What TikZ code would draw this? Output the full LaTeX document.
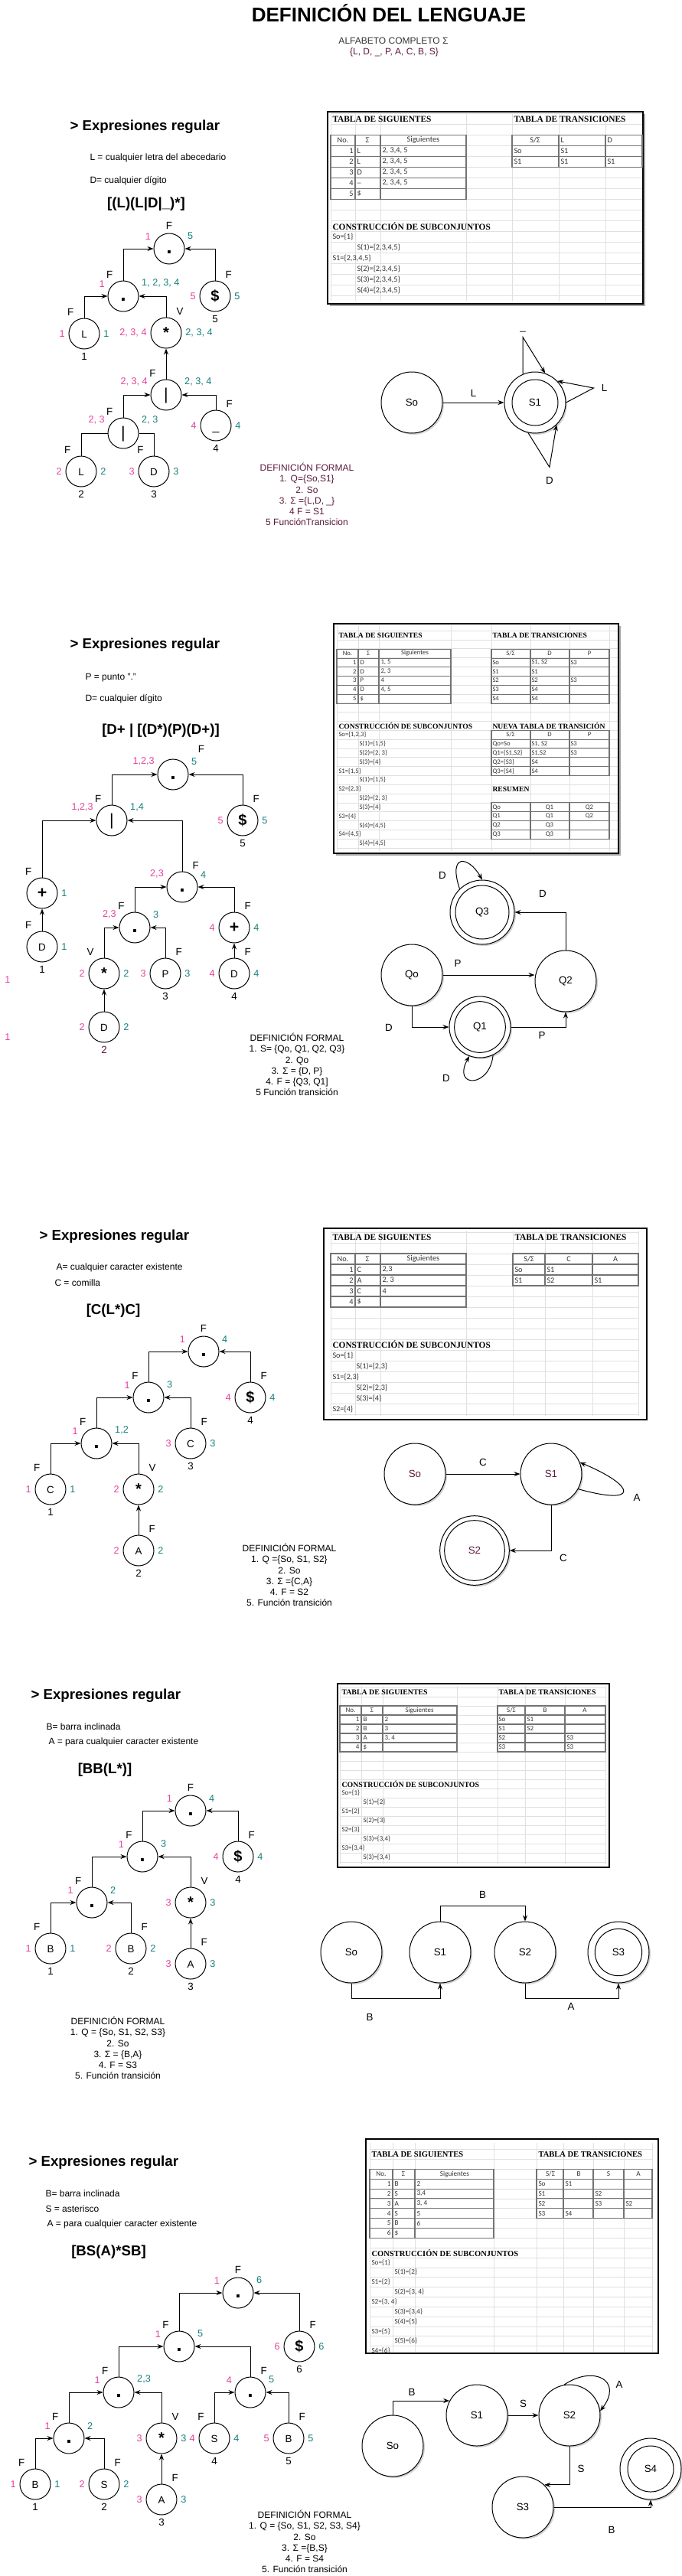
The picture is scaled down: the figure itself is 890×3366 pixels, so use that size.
\documentclass[tikz,border=0pt]{standalone}
\usepackage{fontspec}
\setmainfont{Liberation Sans}
\newfontfamily\tabfont{Carlito}
\newfontfamily\slabfont{Liberation Serif}
\usetikzlibrary{arrows.meta}
\usetikzlibrary{shadows}
\usepackage{xcolor}
\definecolor{rosa}{HTML}{E8409C}
\definecolor{verde}{HTML}{15807C}
\definecolor{vino}{HTML}{5C1B3E}
\tikzset{
nodo/.style={circle, draw, minimum size=30pt, inner sep=0pt, text height=7.5pt, text depth=0pt, font=\fontsize{10}{10}\selectfont},
oper/.style={nodo, text height=11pt, text depth=2pt, font=\fontsize{15}{15}\selectfont\bfseries},
punto/.style={oper, font=\fontsize{20}{20}\selectfont\bfseries},
barra/.style={oper, font=\fontsize{16}{16}\selectfont},
num/.style={font=\fontsize{9.5}{10}\selectfont},
etq/.style={font=\fontsize{10}{10}\selectfont},
ri/.style={label={[num, text=rosa]160:#1}},
vd/.style={label={[num, text=verde]20:#1}},
rc/.style={label={[num, text=rosa]180:#1}},
vc/.style={label={[num, text=verde]0:#1}},
fa/.style={label={[etq]90:#1}},
fi/.style={label={[etq]115:#1}},
fd/.style={label={[etq]65:#1}},
ix/.style={label={[etq]270:#1}},
flecha/.style={-{Stealth[length=6pt, width=4.5pt]}},
estado/.style={circle, draw, fill=white, minimum size=60pt, inner sep=0pt, font=\fontsize{10}{10}\selectfont, drop shadow={shadow xshift=1.5pt, shadow yshift=-1.5pt, fill=black!35}},
txt/.style={font=\fontsize{9}{10.6}\selectfont, inner sep=0pt},
tit/.style={font=\fontsize{14}{14}\selectfont\bfseries, inner sep=0pt},
defi/.style={txt, align=center},
rej/.style={draw=black!12, line width=0.5pt},
bor/.style={draw=black!55, line width=0.8pt},
caja/.style={draw, line width=1.2pt, fill=white},
sombra/.style={fill=black!35},
tc/.style={font=\tabfont\fontsize{#1}{#1}\selectfont, inner sep=0pt, text=black!80},
th/.style={font=\slabfont\bfseries\fontsize{#1}{#1}\selectfont, inner sep=0pt},
}
\begin{document}
\begin{tikzpicture}[x=0.75pt, y=-0.75pt, line width=0.75pt]
\fill[white] (0,0) rectangle (890,3366);
\useasboundingbox (0,0) rectangle (890,3366);
\node[font=\fontsize{19.5}{20}\selectfont\bfseries] (titulo) at (508,17) {DEFINICIÓN DEL LENGUAJE};
\node[txt, text=black!80] (alfa) at (514,53) {ALFABETO COMPLETO Σ};
\node[txt, text=vino] (alfb) at (515,68) {\{L, D, \_, P, A, C, B, S\}};

\node[tit, anchor=west] (er1) at (91,166) {> Expresiones regular};
\node[txt, anchor=west] (dl1) at (117,206) {L = cualquier letra del abecedario};
\node[txt, anchor=west] (dd1) at (117,236) {D= cualquier dígito};
\node[tit] (ex1) at (191,267) {[(L)(L|D|\_)*]};
\node[punto, ri=1, vd=5, fa=F] (r1) at (221,325) {.};
\node[punto, ri=1, vd={1, 2, 3, 4}, fi=F] (p1) at (161,387) {.};
\node[oper, rc=5, vc=5, fd=F, ix=5] (f1) at (281,387) {\$};
\node[nodo, rc=1, vc=1, fi=F, ix=1] (l1) at (110,436) {L};
\node[oper, rc={2, 3, 4}, vc={2, 3, 4}, fd=V] (k1) at (217,435) {*};
\node[barra, ri={2, 3, 4}, vd={2, 3, 4}, fi=F] (o1) at (217,516) {|};
\node[oper, rc=4, vc=4, fd=F, ix=4, font=\fontsize{12}{12}\selectfont] (u1) at (282,556) {\_};
\node[barra, ri={2, 3}, vd={2, 3}, fi=F] (o2) at (161,566) {|};
\node[nodo, rc=2, vc=2, fi=F, ix=2] (l2) at (106,616) {L};
\node[nodo, rc=3, vc=3, fi=F, ix=3] (d1) at (201,616) {D};
\draw[flecha] (p1.north) |- (r1.west);
\draw[flecha] (f1.north) |- (r1.east);
\draw[flecha] (l1.north) |- (p1.west);
\draw[flecha] (k1.north) |- (p1.east);
\draw[flecha] (o1.north) -- (k1.south);
\draw[flecha] (u1.north) |- (o1.east);
\draw[flecha] (o2.north) |- (o1.west);
\draw (l2.north) |- (o2.west);
\draw (d1.north) |- (o2.east);

\fill[sombra] (431,149) rectangle (843,400);
\draw[caja] (428,146) rectangle (840,397);
\foreach \k in {0,...,17} \draw[rej] (432,{148.3+14*\k}) -- (839,{148.3+14*\k});
\foreach \x in {432,464,497,609,669,730,791} \draw[rej] (\x,148) -- (\x,393);
\draw[bor] (432,176.3) rectangle (609,260.3);
\foreach \k in {1,...,5} \draw[bor] (432,{176.3+14*\k}) -- (609,{176.3+14*\k});
\draw[bor] (464,176.3) -- (464,260.3) (497,176.3) -- (497,260.3);
\draw[bor] (669,176.3) rectangle (839,218.3) (669,190.3) -- (839,190.3) (669,204.3) -- (839,204.3) (730,176.3) -- (730,218.3) (791,176.3) -- (791,218.3);
\node[th=8.5, anchor=west] (h1a) at (434,155.3) {TABLA DE SIGUIENTES};
\node[th=8.5, anchor=west] (h1b) at (671,155.3) {TABLA DE TRANSICIONES};
\node[tc=7.7] (h1c) at (448,183.3) {No.};
\node[tc=7.7] (h1d) at (480,183.3) {Σ};
\node[tc=7.7] (h1e) at (553,183.3) {Siguientes};
\node[tc=7.7] (h1f) at (699,183.3) {S/Σ};
\node[tc=7.7, anchor=west] (h1g) at (732,183.3) {L};
\node[tc=7.7, anchor=west] (h1h) at (793,183.3) {D};
\foreach \nr/\xs/\xg in {1/L/{2, 3,4, 5}, 2/L/{2, 3,4, 5}, 3/D/{2, 3,4, 5}, 4/\_/{2, 3,4, 5}, 5/\$/{}} {
\node[tc=7.7, anchor=east] (n1-\nr) at (462,{183.3+14*\nr}) {\nr};
\node[tc=7.7, anchor=west] (e1-\nr) at (466,{183.3+14*\nr}) {\xs};
\node[tc=7.7, anchor=west] (g1-\nr) at (499,{183.3+14*\nr}) {\xg};
}
\foreach \nr/\xa/\xb/\xc in {1/So/S1/{}, 2/S1/S1/S1} {
\node[tc=7.7, anchor=west] (a1-\nr) at (671,{183.3+14*\nr}) {\xa};
\node[tc=7.7, anchor=west] (b1-\nr) at (732,{183.3+14*\nr}) {\xb};
\node[tc=7.7, anchor=west] (c1-\nr) at (793,{183.3+14*\nr}) {\xc};
}
\node[th=8.5, anchor=west] (h1i) at (434,295.3) {CONSTRUCCIÓN DE SUBCONJUNTOS};
\foreach \xp/\xt [count=\i from 11] in {434/{So=\{1\}}, 466/{S(1)=\{2,3,4,5\}}, 434/{S1=\{2,3,4,5\}}, 466/{S(2)=\{2,3,4,5\}}, 466/{S(3)=\{2,3,4,5\}}, 466/{S(4)=\{2,3,4,5\}}}
\node[tc=7.7, anchor=west] (k1-\i) at (\xp,{155.3+14*\i}) {\xt};

\node[estado] (so1) at (538,526) {So};
\node[estado] (sf1) at (699,526) {S1};
\draw (sf1) circle (22.5pt);
\draw[flecha] (so1) -- node[etq, above=2pt] (el1) {L} (sf1);
\draw[flecha] (sf1.113) -- ++(0,-48) coordinate (c1a) -- (sf1.71);
\node[etq, above=1pt] (eu1) at (c1a) {\_};
\draw[flecha] (sf1.0) -- ++(36,-19) coordinate (c1b) -- (sf1.44);
\node[etq, right=4pt] (eL1) at (c1b) {L};
\draw[flecha] (sf1.257) -- ++(28,45) coordinate (c1c) -- (sf1.314);
\node[etq, below=6pt] (eD1) at (c1c) {D};
\node[defi, text=vino] (fd1) at (401,646) {DEFINICIÓN FORMAL\\1. Q=\{So,S1\}\\2. So\\3. Σ =\{L,D, \_\}\\4 F = S1\\5 FunciónTransicion};

\node[tit, anchor=west] (er2) at (91,843) {> Expresiones regular};
\node[txt, anchor=west] (dp2) at (111,886) {P = punto "."};
\node[txt, anchor=west] (dd2) at (111,913) {D= cualquier dígito};
\node[tit] (ex2) at (210,955) {[D+ | [(D*)(P)(D+)]};
\node[punto, ri={1,2,3}, vd=5, label={[etq, label distance=12pt]40:F}] (r2) at (226,1012) {.};
\node[barra, ri={1,2,3}, vd={1,4}, fi=F] (b2) at (146,1072) {|};
\node[oper, rc=5, vc=5, fd=F, ix=5] (f2) at (317,1072) {\$};
\node[oper, vc=1, fi=F, font=\fontsize{16}{16}\selectfont\bfseries] (m21) at (55,1167) {+};
\node[nodo, vc=1, fi=F, ix=1] (d21) at (55,1237) {D};
\node[punto, ri={2,3}, vd=4, fd=F] (p2) at (238,1159) {.};
\node[punto, ri={2,3}, vd=3, fi=F] (p3) at (176,1212) {.};
\node[oper, rc=4, vc=4, fd=F, font=\fontsize{16}{16}\selectfont\bfseries] (m22) at (306,1212) {+};
\node[oper, rc=2, vc=2, fi=V] (k2) at (136,1272) {*};
\node[nodo, rc=3, vc=3, fd=F, ix=3] (e2) at (216,1272) {P};
\node[nodo, rc=4, vc=4, fd=F, ix=4] (d22) at (306,1272) {D};
\node[nodo, rc=2, vc=2, label={[etq, text=vino]270:2}] (d23) at (136,1342) {D};
\node[num, text=rosa] (x21) at (10,1280) {1};
\node[num, text=rosa] (x22) at (10,1355) {1};
\draw[flecha] (b2.north) |- (r2.west);
\draw[flecha] (f2.north) |- (r2.east);
\draw[flecha] (m21.north) |- (b2.west);
\draw[flecha] (p2.north) |- (b2.east);
\draw[flecha] (d21.north) -- (m21.south);
\draw[flecha] (p3.north) |- (p2.west);
\draw[flecha] (m22.north) |- (p2.east);
\draw[flecha] (k2.north) |- (p3.west);
\draw[flecha] (e2.north) |- (p3.east);
\draw[flecha] (d22.north) -- (m22.south);
\draw[flecha] (d23.north) -- (k2.south);

\fill[sombra] (439,818) rectangle (811,1118);
\draw[caja] (436,815) rectangle (808,1115);
\foreach \k in {0,...,24} \draw[rej] (440,{824.1+11.83*\k}) -- (807,{824.1+11.83*\k});
\foreach \x in {440,468,495,589,642,693,744,796} \draw[rej] (\x,818) -- (\x,1112);
\draw[bor] (440,848.2) rectangle (589,919.2) (468,848.2) -- (468,919.2) (495,848.2) -- (495,919.2);
\draw[bor] (642,848.2) rectangle (796,919.2) (693,848.2) -- (693,919.2) (744,848.2) -- (744,919.2);
\foreach \k in {1,...,5} \draw[bor] (440,{848.2+11.83*\k}) -- (589,{848.2+11.83*\k}) (642,{848.2+11.83*\k}) -- (796,{848.2+11.83*\k});
\draw[bor] (642,954.2) rectangle (796,1013.4) (693,954.2) -- (693,1013.4) (744,954.2) -- (744,1013.4);
\foreach \k in {1,...,4} \draw[bor] (642,{954.2+11.83*\k}) -- (796,{954.2+11.83*\k});
\draw[bor] (642,1048.9) rectangle (796,1096.2) (693,1048.9) -- (693,1096.2) (744,1048.9) -- (744,1096.2);
\foreach \k in {1,...,3} \draw[bor] (642,{1048.9+11.83*\k}) -- (796,{1048.9+11.83*\k});
\node[th=7.2, anchor=west] (h2a) at (442,830) {TABLA DE SIGUIENTES};
\node[th=7.2, anchor=west] (h2b) at (643,830) {TABLA DE TRANSICIONES};
\node[tc=6.5] (h2c) at (454,853.7) {No.};
\node[tc=6.5] (h2d) at (481,853.7) {Σ};
\node[tc=6.5] (h2e) at (542,853.7) {Siguientes};
\node[tc=6.5] (h2f) at (667,853.7) {S/Σ};
\node[tc=6.5] (h2g) at (718,853.7) {D};
\node[tc=6.5] (h2h) at (770,853.7) {P};
\foreach \nr/\xs/\xg in {1/D/{1, 5}, 2/D/{2, 3}, 3/P/4, 4/D/{4, 5}, 5/\$/{}} {
\node[tc=6.5, anchor=east] (n2-\nr) at (466,{853.7+11.83*\nr}) {\nr};
\node[tc=6.5, anchor=west] (e2-\nr) at (470,{853.7+11.83*\nr}) {\xs};
\node[tc=6.5, anchor=west] (g2-\nr) at (497,{853.7+11.83*\nr}) {\xg};
}
\foreach \nr/\xa/\xb/\xc in {1/So/{S1, S2}/S3, 2/S1/S1/{}, 3/S2/S2/S3, 4/S3/S4/{}, 5/S4/S4/{}} {
\node[tc=6.5, anchor=west] (a2-\nr) at (643,{853.7+11.83*\nr}) {\xa};
\node[tc=6.5, anchor=west] (b2-\nr) at (694,{853.7+11.83*\nr}) {\xb};
\node[tc=6.5, anchor=west] (c2-\nr) at (745,{853.7+11.83*\nr}) {\xc};
}
\node[th=7.2, anchor=west] (h2i) at (442,948.3) {CONSTRUCCIÓN DE SUBCONJUNTOS};
\node[th=7.2, anchor=west] (h2j) at (643,948.3) {NUEVA TABLA DE TRANSICIÓN};
\foreach \xp/\xt [count=\i from 11] in {442/{So=\{1,2,3\}}, 469/{S(1)=\{1,5\}}, 469/{S(2)=\{2, 3\}}, 469/{S(3)=\{4\}}, 442/{S1=\{1,5\}}, 469/{S(1)=\{1,5\}}, 442/{S2=\{2,3\}}, 469/{S(2)=\{2, 3\}}, 469/{S(3)=\{4\}}, 442/{S3=\{4\}}, 469/{S(4)=\{4,5\}}, 442/{S4=\{4,5\}}, 469/{S(4)=\{4,5\}}}
\node[tc=6.5, anchor=west] (k2-\i) at (\xp,{830+11.83*\i}) {\xt};
\node[tc=6.5] (h2k) at (667,960.1) {S/Σ};
\node[tc=6.5] (h2l) at (718,960.1) {D};
\node[tc=6.5] (h2m) at (770,960.1) {P};
\foreach \xa/\xb/\xc [count=\i from 12] in {{Qo=So}/{S1, S2}/S3, {Q1=\{S1,S2\}}/{S1,S2}/S3, {Q2=\{S3\}}/S4/{}, {Q3=\{S4\}}/S4/{}} {
\node[tc=6.5, anchor=west] (a3-\i) at (643,{830+11.83*\i}) {\xa};
\node[tc=6.5, anchor=west] (b3-\i) at (694,{830+11.83*\i}) {\xb};
\node[tc=6.5, anchor=west] (c3-\i) at (745,{830+11.83*\i}) {\xc};
}
\node[th=7.2, anchor=west] (h2n) at (643,1031.1) {RESUMEN};
\foreach \xa/\xb/\xc [count=\i from 19] in {Qo/Q1/Q2, Q1/Q1/Q2, Q2/Q3/{}, Q3/Q3/{}} {
\node[tc=6.5, anchor=west] (a4-\i) at (643,{830+11.83*\i}) {\xa};
\node[tc=6.5] (b4-\i) at (718,{830+11.83*\i}) {\xb};
\node[tc=6.5] (c4-\i) at (770,{830+11.83*\i}) {\xc};
}

\node[estado, minimum size=63pt] (q3) at (630,1192) {Q3};
\draw (q3) circle (26.25pt);
\node[estado] (q0) at (538,1274) {Qo};
\node[estado] (q2) at (739,1282) {Q2};
\node[estado] (q1) at (627,1342) {Q1};
\draw (q1) circle (25pt);
\draw[flecha] (q0.east) -- (q0.east -| q2.west);
\node[etq] (ep1) at (598,1259) {P};
\draw[flecha] (q0.south) |- (q1.west);
\node[etq] (ed1) at (508,1343) {D};
\draw[flecha] (q1.east) -| (q2.south);
\node[etq] (ep2) at (708,1353) {P};
\draw[flecha] (q2.north) |- (q3.east);
\node[etq] (ed2) at (709,1168) {D};
\draw[flecha] (q3.134) .. controls (585,1115) and (612,1118) .. (q3.90);
\node[etq] (ed3) at (578,1144) {D};
\draw[flecha] (q1.295) .. controls (640,1422) and (590,1422) .. (q1.250);
\node[etq] (ed4) at (583,1409) {D};
\node[defi] (fd2) at (388,1391) {DEFINICIÓN FORMAL\\1. S= \{Qo, Q1, Q2, Q3\}\\2. Qo\\3. Σ = \{D, P\}\\4. F = \{Q3, Q1]\\5 Función transición};

\node[tit, anchor=west] (er3) at (51,1616) {> Expresiones regular};
\node[txt, anchor=west] (da3) at (73,1656) {A= cualquier caracter existente};
\node[txt, anchor=west] (dc3) at (71,1676) {C = comilla};
\node[tit] (ex3) at (148,1713) {[C(L*)C]};
\node[punto, ri=1, vd=4, fa=F] (r3) at (266,1766) {.};
\node[punto, ri=1, vd=3, fi=F] (p31) at (194,1826) {.};
\node[oper, rc=4, vc=4, fd=F, ix=4] (f3) at (327,1826) {\$};
\node[punto, ri=1, vd={1,2}, fi=F] (p32) at (126,1886) {.};
\node[nodo, rc=3, vc=3, fd=F, ix=3] (c31) at (249,1886) {C};
\node[nodo, rc=1, vc=1, fi=F, ix=1] (c32) at (66,1946) {C};
\node[oper, rc=2, vc=2, fd=V] (k3) at (181,1946) {*};
\node[nodo, rc=2, vc=2, fd=F, ix=2] (a3) at (181,2026) {A};
\draw[flecha] (p31.north) |- (r3.west);
\draw[flecha] (f3.north) |- (r3.east);
\draw[flecha] (p32.north) |- (p31.west);
\draw[flecha] (c31.north) |- (p31.east);
\draw[flecha] (c32.north) |- (p32.west);
\draw[flecha] (k3.north) |- (p32.east);
\draw[flecha] (a3.north) -- (k3.south);

\draw[caja] (423,1605) rectangle (845,1855);
\foreach \k in {0,...,17} \draw[rej] (432,{1610+14*\k}) -- (834,{1610+14*\k});
\foreach \x in {432,464,497,609,670,712,774,834} \draw[rej] (\x,1608) -- (\x,1850);
\draw[bor] (432,1638) rectangle (609,1708) (464,1638) -- (464,1708) (497,1638) -- (497,1708);
\foreach \k in {1,...,4} \draw[bor] (432,{1638+14*\k}) -- (609,{1638+14*\k});
\draw[bor] (670,1638) rectangle (834,1680) (670,1652) -- (834,1652) (670,1666) -- (834,1666) (712,1638) -- (712,1680) (774,1638) -- (774,1680);
\node[th=8.5, anchor=west] (h3a) at (434,1617) {TABLA DE SIGUIENTES};
\node[th=8.5, anchor=west] (h3b) at (672,1617) {TABLA DE TRANSICIONES};
\node[tc=7.7] (h3c) at (448,1645) {No.};
\node[tc=7.7] (h3d) at (480,1645) {Σ};
\node[tc=7.7] (h3e) at (553,1645) {Siguientes};
\node[tc=7.7] (h3f) at (691,1645) {S/Σ};
\node[tc=7.7] (h3g) at (743,1645) {C};
\node[tc=7.7] (h3h) at (804,1645) {A};
\foreach \nr/\xs/\xg in {1/C/{2,3}, 2/A/{2, 3}, 3/C/4, 4/\$/{}} {
\node[tc=7.7, anchor=east] (n3-\nr) at (462,{1645+14*\nr}) {\nr};
\node[tc=7.7, anchor=west] (e3-\nr) at (466,{1645+14*\nr}) {\xs};
\node[tc=7.7, anchor=west] (g3-\nr) at (499,{1645+14*\nr}) {\xg};
}
\foreach \nr/\xa/\xb/\xc in {1/So/S1/{}, 2/S1/S2/S1} {
\node[tc=7.7, anchor=west] (a5-\nr) at (672,{1645+14*\nr}) {\xa};
\node[tc=7.7, anchor=west] (b5-\nr) at (714,{1645+14*\nr}) {\xb};
\node[tc=7.7, anchor=west] (c5-\nr) at (776,{1645+14*\nr}) {\xc};
}
\node[th=8.5, anchor=west] (h3i) at (434,1757) {CONSTRUCCIÓN DE SUBCONJUNTOS};
\foreach \xp/\xt [count=\i from 11] in {434/{So=\{1\}}, 465/{S(1)=\{2,3\}}, 434/{S1=\{2,3\}}, 465/{S(2)=\{2,3\}}, 465/{S(3)=\{4\}}, 434/{S2=\{4\}}}
\node[tc=7.7, anchor=west] (k3-\i) at (\xp,{1617+14*\i}) {\xt};

\node[estado, text=vino] (s30) at (542,1926) {So};
\node[estado, text=vino] (s31) at (720,1926) {S1};
\node[estado, text=vino, minimum size=68pt] (s32) at (620,2026) {S2};
\draw (s32) circle (29.5pt);
\draw[flecha] (s30) -- node[etq, above=4pt] (ec1) {C} (s31);
\draw[flecha] (s31.331) .. controls (835,1968) and (832,1942) .. (s31.22);
\node[etq] (ea3) at (832,1957) {A};
\draw[flecha] (s31.south) |- (s32.east);
\node[etq] (ec2) at (736,2036) {C};
\node[defi] (fd3) at (378,2058) {DEFINICIÓN FORMAL\\1. Q =\{So, S1, S2\}\\2. So\\3. Σ =\{C,A\}\\4. F = S2\\5. Función transición};

\node[tit, anchor=west] (er4) at (40,2216) {> Expresiones regular};
\node[txt, anchor=west] (db4) at (60,2256) {B= barra inclinada};
\node[txt, anchor=west] (da4) at (63,2276) {A = para cualquier caracter existente};
\node[tit] (ex4) at (137,2313) {[BB(L*)]};
\node[punto, ri=1, vd=4, fa=F] (r4) at (249,2366) {.};
\node[punto, ri=1, vd=3, fi=F] (p41) at (186,2426) {.};
\node[oper, rc=4, vc=4, fd=F, ix=4] (f4) at (311,2426) {\$};
\node[punto, ri=1, vd=2, fi=F] (p42) at (120,2486) {.};
\node[oper, rc=3, vc=3, fd=V] (k4) at (249,2486) {*};
\node[nodo, rc=1, vc=1, fi=F, ix=1] (b41) at (66,2546) {B};
\node[nodo, rc=2, vc=2, fd=F, ix=2] (b42) at (171,2546) {B};
\node[nodo, rc=3, vc=3, fd=F, ix=3] (a4) at (249,2566) {A};
\draw[flecha] (p41.north) |- (r4.west);
\draw[flecha] (f4.north) |- (r4.east);
\draw[flecha] (p42.north) |- (p41.west);
\draw[flecha] (k4.north) |- (p41.east);
\draw[flecha] (b41.north) |- (p42.west);
\draw[flecha] (b42.north) |- (p42.east);
\draw[flecha] (a4.north) -- (k4.south);

\draw[caja] (441,2200) rectangle (796,2440);
\foreach \k in {0,...,19} \draw[rej] (444,{2205+12*\k}) -- (791,{2205+12*\k});
\foreach \x in {444,472,500,597,650,686,738,791} \draw[rej] (\x,2203) -- (\x,2436);
\draw[bor] (444,2229) rectangle (597,2289) (472,2229) -- (472,2289) (500,2229) -- (500,2289);
\draw[bor] (650,2229) rectangle (791,2289) (686,2229) -- (686,2289) (738,2229) -- (738,2289);
\foreach \k in {1,...,4} \draw[bor] (444,{2229+12*\k}) -- (597,{2229+12*\k}) (650,{2229+12*\k}) -- (791,{2229+12*\k});
\node[th=7.4, anchor=west] (h4a) at (446,2211) {TABLA DE SIGUIENTES};
\node[th=7.4, anchor=west] (h4b) at (651,2211) {TABLA DE TRANSICIONES};
\node[tc=6.7] (h4c) at (458,2235) {No.};
\node[tc=6.7] (h4d) at (486,2235) {Σ};
\node[tc=6.7] (h4e) at (548,2235) {Siguientes};
\node[tc=6.7] (h4f) at (668,2235) {S/Σ};
\node[tc=6.7] (h4g) at (712,2235) {B};
\node[tc=6.7] (h4h) at (764,2235) {A};
\foreach \nr/\xs/\xg in {1/B/2, 2/B/3, 3/A/{3, 4}, 4/\$/{}} {
\node[tc=6.7, anchor=east] (n4-\nr) at (470,{2235+12*\nr}) {\nr};
\node[tc=6.7, anchor=west] (e4-\nr) at (474,{2235+12*\nr}) {\xs};
\node[tc=6.7, anchor=west] (g4-\nr) at (502,{2235+12*\nr}) {\xg};
}
\foreach \nr/\xa/\xb/\xc in {1/So/S1/{}, 2/S1/S2/{}, 3/S2/{}/S3, 4/S3/{}/S3} {
\node[tc=6.7, anchor=west] (a6-\nr) at (651,{2235+12*\nr}) {\xa};
\node[tc=6.7, anchor=west] (b6-\nr) at (688,{2235+12*\nr}) {\xb};
\node[tc=6.7, anchor=west] (c6-\nr) at (740,{2235+12*\nr}) {\xc};
}
\node[th=7.4, anchor=west] (h4i) at (446,2331) {CONSTRUCCIÓN DE SUBCONJUNTOS};
\foreach \xp/\xt [count=\i from 11] in {446/{So=\{1\}}, 474/{S(1)=\{2\}}, 446/{S1=\{2\}}, 474/{S(2)=\{3\}}, 446/{S2=\{3\}}, 474/{S(3)=\{3,4\}}, 446/{S3=\{3,4\}}, 474/{S(3)=\{3,4\}}}
\node[tc=6.7, anchor=west] (k4-\i) at (\xp,{2211+12*\i}) {\xt};

\node[estado] (s40) at (459,2551) {So};
\node[estado] (s41) at (575,2551) {S1};
\node[estado] (s42) at (686,2551) {S2};
\node[estado] (s43) at (808,2551) {S3};
\draw (s43) circle (23pt);
\draw[flecha] (s41.north) -- ++(0,-20) -| node[etq, pos=0.25, above=4pt] (eb1) {B} (s42.north);
\draw[flecha] (s40.south) -- ++(0,20) -| (s41.south);
\node[etq] (eb2) at (483,2636) {B};
\draw[flecha] (s42.south) -- ++(0,20) -| (s43.south);
\node[etq] (ea4) at (746,2622) {A};
\node[defi] (fd4) at (154,2676) {DEFINICIÓN FORMAL\\1. Q = \{So, S1, S2, S3\}\\2. So\\3. Σ = \{B,A\}\\4. F = S3\\5. Función transición};

\node[tit, anchor=west] (er5) at (37,2826) {> Expresiones regular};
\node[txt, anchor=west] (db5) at (59,2866) {B= barra inclinada};
\node[txt, anchor=west] (ds5) at (59,2886) {S = asterisco};
\node[txt, anchor=west] (da5) at (61,2906) {A = para cualquier caracter existente};
\node[tit] (ex5) at (142,2943) {[BS(A)*SB]};
\node[punto, ri=1, vd=6, fa=F] (r5) at (311,2996) {.};
\node[punto, ri=1, vd=5, fi=F] (p51) at (234,3066) {.};
\node[oper, rc=6, vc=6, fd=F, ix=6] (f5) at (391,3066) {\$};
\node[punto, ri=1, vd={2,3}, fi=F] (p52) at (155,3126) {.};
\node[punto, ri=4, vd=5, fd=F] (p53) at (327,3126) {.};
\node[punto, ri=1, vd=2, fi=F] (p54) at (90,3186) {.};
\node[oper, rc=3, vc=3, fd=V] (k5) at (211,3186) {*};
\node[nodo, rc=4, vc=4, fi=F, ix=4] (g5) at (280,3186) {S};
\node[nodo, rc=5, vc=5, fd=F, ix=5] (h5) at (377,3186) {B};
\node[nodo, rc=1, vc=1, fi=F, ix=1] (i5) at (46,3246) {B};
\node[nodo, rc=2, vc=2, fd=F, ix=2] (j5) at (136,3246) {S};
\node[nodo, rc=3, vc=3, fd=F, ix=3] (l5) at (211,3266) {A};
\draw[flecha] (p51.north) |- (r5.west);
\draw[flecha] (f5.north) |- (r5.east);
\draw[flecha] (p52.north) |- (p51.west);
\draw[flecha] (p53.north) |- (p51.east);
\draw[flecha] (p54.north) |- (p52.west);
\draw[flecha] (k5.north) |- (p52.east);
\draw[flecha] (g5.north) |- (p53.west);
\draw[flecha] (h5.north) |- (p53.east);
\draw[flecha] (i5.north) |- (p54.west);
\draw[flecha] (j5.north) |- (p54.east);
\draw[flecha] (l5.north) -- (k5.south);

\draw[caja] (478,2795) rectangle (860,3075);
\foreach \k in {0,...,20} \draw[rej] (483,{2808.6+12.85*\k}) -- (852,{2808.6+12.85*\k});
\foreach \x in {483,513,542,645,701,736,775,815,852} \draw[rej] (\x,2800) -- (\x,3073);
\draw[bor] (483,2834.3) rectangle (645,2924.2) (513,2834.3) -- (513,2924.2) (542,2834.3) -- (542,2924.2);
\foreach \k in {1,...,6} \draw[bor] (483,{2834.3+12.85*\k}) -- (645,{2834.3+12.85*\k});
\draw[bor] (701,2834.3) rectangle (852,2898.5) (736,2834.3) -- (736,2898.5) (775,2834.3) -- (775,2898.5) (815,2834.3) -- (815,2898.5);
\foreach \k in {1,...,4} \draw[bor] (701,{2834.3+12.85*\k}) -- (852,{2834.3+12.85*\k});
\node[th=7.9, anchor=west] (h5a) at (485,2815) {TABLA DE SIGUIENTES};
\node[th=7.9, anchor=west] (h5b) at (703,2815) {TABLA DE TRANSICIONES};
\node[tc=6.9] (h5c) at (498,2840.7) {No.};
\node[tc=6.9] (h5d) at (527,2840.7) {Σ};
\node[tc=6.9] (h5e) at (594,2840.7) {Siguientes};
\node[tc=6.9] (h5f) at (719,2840.7) {S/Σ};
\node[tc=6.9] (h5g) at (756,2840.7) {B};
\node[tc=6.9] (h5h) at (795,2840.7) {S};
\node[tc=6.9] (h5i) at (834,2840.7) {A};
\foreach \nr/\xs/\xg in {1/B/2, 2/S/{3,4}, 3/A/{3, 4}, 4/S/5, 5/B/6, 6/\$/{}} {
\node[tc=6.9, anchor=east] (n5-\nr) at (511,{2840.7+12.85*\nr}) {\nr};
\node[tc=6.9, anchor=west] (e5-\nr) at (515,{2840.7+12.85*\nr}) {\xs};
\node[tc=6.9, anchor=west] (g5-\nr) at (544,{2840.7+12.85*\nr}) {\xg};
}
\foreach \nr/\xa/\xb/\xc/\xd in {1/So/S1/{}/{}, 2/S1/{}/S2/{}, 3/S2/{}/S3/S2, 4/S3/S4/{}/{}} {
\node[tc=6.9, anchor=west] (a7-\nr) at (703,{2840.7+12.85*\nr}) {\xa};
\node[tc=6.9, anchor=west] (b7-\nr) at (738,{2840.7+12.85*\nr}) {\xb};
\node[tc=6.9, anchor=west] (c7-\nr) at (777,{2840.7+12.85*\nr}) {\xc};
\node[tc=6.9, anchor=west] (d7-\nr) at (817,{2840.7+12.85*\nr}) {\xd};
}
\node[th=7.9, anchor=west] (h5j) at (485,2943.5) {CONSTRUCCIÓN DE SUBCONJUNTOS};
\foreach \xp/\xt [count=\i from 11] in {485/{So=\{1\}}, 515/{S(1)=\{2\}}, 485/{S1=\{2\}}, 515/{S(2)=\{3, 4\}}, 485/{S2=\{3, 4\}}, 515/{S(3)=\{3,4\}}, 515/{S(4)=\{5\}}, 485/{S3=\{5\}}, 515/{S(5)=\{6\}}, 485/{S4=\{6\}}}
\node[tc=6.9, anchor=west] (k5-\i) at (\xp,{2815+12.85*\i}) {\xt};

\node[estado] (s50) at (513,3196) {So};
\node[estado] (s51) at (623,3156) {S1};
\node[estado] (s52) at (744,3156) {S2};
\node[estado] (s53) at (683,3276) {S3};
\node[estado] (s54) at (850,3226) {S4};
\draw (s54) circle (22.5pt);
\draw[flecha] (s50.north) |- (s51.152);
\node[etq] (eb5) at (538,3126) {B};
\draw[flecha] (s51) -- node[etq, above=4pt] (es5) {S} (s52);
\draw[flecha] (s52.100) .. controls (775,3090) and (815,3110) .. (s52.8);
\node[etq] (ea5) at (809,3116) {A};
\draw[flecha] (s52.south) |- (s53.46);
\node[etq] (et5) at (759,3226) {S};
\draw[flecha] (s53.east) -| (s54.south);
\node[etq] (eb6) at (799,3306) {B};
\node[defi] (fd5) at (398,3321) {DEFINICIÓN FORMAL\\1. Q = \{So, S1, S2, S3, S4\}\\2. So\\3. Σ =\{B,S\}\\4. F = S4\\5. Función transición};
\end{tikzpicture}
\end{document}
